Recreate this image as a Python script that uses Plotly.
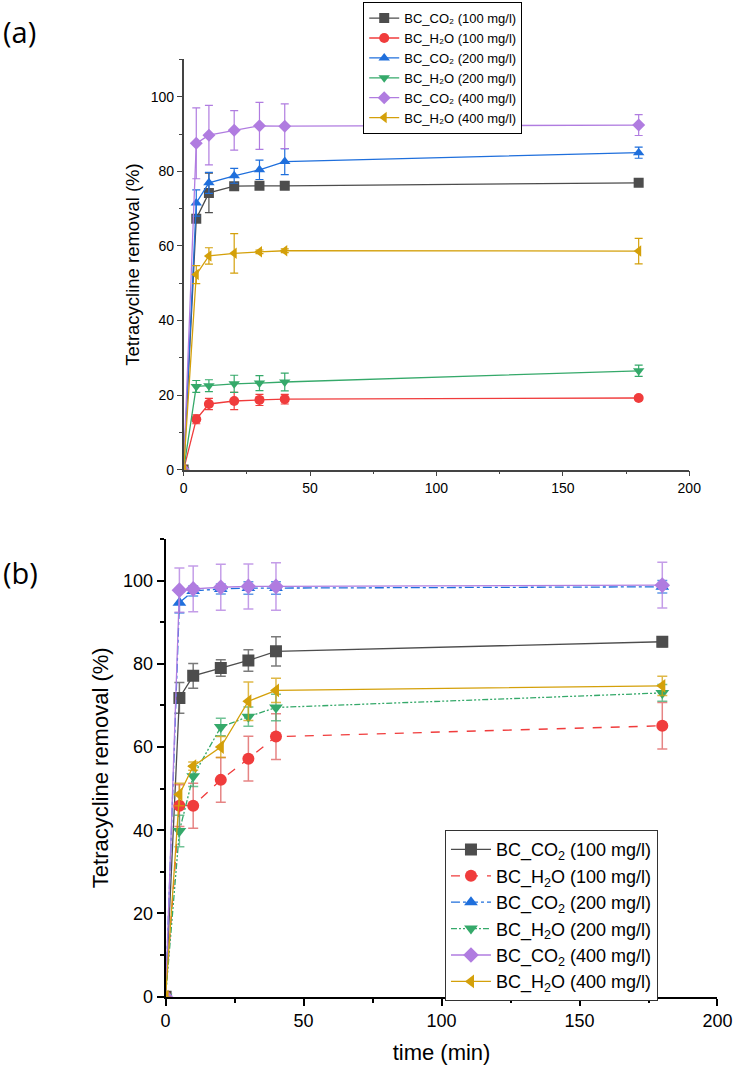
import plotly.graph_objects as go

time = [0, 5, 10, 20, 30, 40, 180]

names_a = ["BC_CO₂ (100 mg/l)", "BC_H₂O (100 mg/l)",
           "BC_CO₂ (200 mg/l)", "BC_H₂O (200 mg/l)",
           "BC_CO₂ (400 mg/l)", "BC_H₂O (400 mg/l)"]
names_b = ["BC_CO<sub>2</sub> (100 mg/l)", "BC_H<sub>2</sub>O (100 mg/l)",
           "BC_CO<sub>2</sub> (200 mg/l)", "BC_H<sub>2</sub>O (200 mg/l)",
           "BC_CO<sub>2</sub> (400 mg/l)", "BC_H<sub>2</sub>O (400 mg/l)"]

# Panel (a)
a_co2_100 = [0, 67.3, 74.2, 76.0, 76.1, 76.1, 76.9]
a_co2_100_err = [0, 1.0, 5.3, 0.8, 0.6, 0.6, 0.5]
a_h2o_100 = [0, 13.5, 17.6, 18.4, 18.7, 18.9, 19.2]
a_h2o_100_err = [0, 1.2, 1.5, 2.3, 1.5, 1.3, 0.5]
a_co2_200 = [0, 71.5, 76.9, 78.8, 80.4, 82.6, 85.0]
a_co2_200_err = [0, 3.5, 2.8, 2.0, 2.6, 3.5, 1.5]
a_h2o_200 = [0, 22.3, 22.5, 23.0, 23.2, 23.5, 26.5]
a_h2o_200_err = [0, 1.6, 1.6, 2.3, 2.0, 2.4, 1.5]
a_co2_400 = [0, 87.5, 89.7, 91.0, 92.2, 92.1, 92.4]
a_co2_400_err = [0, 9.5, 8.0, 5.3, 6.3, 6.0, 2.8]
a_h2o_400 = [0, 52.3, 57.3, 58.0, 58.4, 58.7, 58.6]
a_h2o_400_err = [0, 2.4, 2.2, 5.3, 0.5, 0.5, 3.4]

# Panel (b)
b_co2_100 = [0, 71.8, 77.1, 79.0, 80.8, 83.0, 85.3]
b_co2_100_err = [0, 3.7, 3.0, 2.0, 2.6, 3.5, 1.2]
b_h2o_100 = [0, 45.9, 45.9, 52.1, 57.2, 62.5, 65.1]
b_h2o_100_err = [0, 5.0, 5.4, 5.4, 5.4, 5.5, 5.6]
b_co2_200 = [0, 94.7, 97.5, 98.0, 98.2, 98.2, 98.5]
b_co2_200_err = [0, 2.5, 1.2, 1.2, 1.5, 1.5, 1.5]
b_h2o_200 = [0, 39.8, 53.0, 64.8, 67.3, 69.5, 73.0]
b_h2o_200_err = [0, 3.8, 2.5, 2.1, 2.3, 3.2, 2.0]
b_co2_400 = [0, 97.7, 98.0, 98.4, 98.6, 98.6, 98.9]
b_co2_400_err = [0, 5.3, 5.5, 5.5, 5.4, 5.7, 5.5]
b_h2o_400 = [0, 48.6, 55.4, 60.0, 71.0, 73.6, 74.7]
b_h2o_400_err = [0, 2.7, 1.0, 2.5, 4.6, 2.9, 2.3]

colors = ["#4d4d4d", "#f03c3c", "#1f6fdc", "#35a96a", "#b07ce0", "#d4a00a"]
err_colors_b = ["rgba(77,77,77,0.75)", "rgba(220,80,80,0.7)", "rgba(31,111,220,0.7)",
                "rgba(53,169,106,0.7)", "rgba(176,124,224,0.75)", "rgba(212,160,10,0.75)"]
symbols = ["square", "circle", "triangle-up", "triangle-down", "diamond", "triangle-left"]
dashes_b = ["solid", "dash", "dashdot", "6px,2px,2px,2px,2px,2px", "solid", "solid"]

a_vals = [a_co2_100, a_h2o_100, a_co2_200, a_h2o_200, a_co2_400, a_h2o_400]
a_errs = [a_co2_100_err, a_h2o_100_err, a_co2_200_err, a_h2o_200_err, a_co2_400_err, a_h2o_400_err]
b_vals = [b_co2_100, b_h2o_100, b_co2_200, b_h2o_200, b_co2_400, b_h2o_400]
b_errs = [b_co2_100_err, b_h2o_100_err, b_co2_200_err, b_h2o_200_err, b_co2_400_err, b_h2o_400_err]

fig = go.Figure()
for i in range(6):
    fig.add_trace(go.Scatter(
        x=time, y=a_vals[i], name=names_a[i], mode="lines+markers",
        line=dict(color=colors[i], width=1.3),
        marker=dict(symbol=symbols[i], size=10, color=colors[i]),
        error_y=dict(type="data", array=a_errs[i], color=colors[i], thickness=1.2, width=4),
        xaxis="x", yaxis="y", legend="legend"))
for i in range(6):
    fig.add_trace(go.Scatter(
        x=time, y=b_vals[i], name=names_b[i], mode="lines+markers",
        line=dict(color=colors[i], width=1.3, dash=dashes_b[i]),
        marker=dict(symbol=symbols[i], size=12, color=colors[i]),
        error_y=dict(type="data", array=b_errs[i], color=err_colors_b[i], thickness=1.5, width=5),
        xaxis="x2", yaxis="y2", legend="legend2"))

font_fam = "Arial"
axis_a = dict(showline=True, linecolor="#444", linewidth=1.5, ticks="outside", ticklen=5,
              tickcolor="#444", tickwidth=1.2, showgrid=False, zeroline=False,
              tickfont=dict(size=14, color="black", family=font_fam),
              minor=dict(ticks="outside", ticklen=3, tickcolor="#444", tickwidth=1))
axis_b = dict(showline=True, linecolor="black", linewidth=2, ticks="outside", ticklen=7,
              tickcolor="black", tickwidth=2, showgrid=False, zeroline=False,
              tickfont=dict(size=18, color="black", family=font_fam),
              minor=dict(ticks="outside", ticklen=4, tickcolor="black", tickwidth=2))

fig.update_layout(
    width=750, height=1079, margin=dict(l=0, r=0, t=0, b=0),
    paper_bgcolor="white", plot_bgcolor="white", showlegend=True,
    font=dict(family=font_fam, color="black"),
    xaxis=dict(axis_a, domain=[0.2447, 0.9373], range=[0, 200], dtick=50,
               minor=dict(axis_a["minor"], dtick=25), anchor="y"),
    yaxis=dict(axis_a, domain=[0.5607, 0.9444], range=[0, 110], tick0=0, dtick=20,
               minor=dict(axis_a["minor"], dtick=10), anchor="x",
               title=dict(text="Tetracycline removal (%)", font=dict(size=18.5, family=font_fam), standoff=6)),
    xaxis2=dict(axis_b, domain=[0.22, 0.976], range=[0, 200], dtick=50,
                minor=dict(axis_b["minor"], dtick=25), anchor="y2",
                title=dict(text="time (min)", font=dict(size=22, family=font_fam), standoff=14)),
    yaxis2=dict(axis_b, domain=[0.0677, 0.4958], range=[0, 110], tick0=0, dtick=20,
                minor=dict(axis_b["minor"], dtick=10), anchor="x2",
                title=dict(text="Tetracycline removal (%)", font=dict(size=22, family=font_fam), standoff=8)),
    legend=dict(x=0.4907, y=0.998, xanchor="left", yanchor="top", bgcolor="white",
                bordercolor="black", borderwidth=1, font=dict(size=13, family=font_fam),
                tracegroupgap=0, itemwidth=30),
    legend2=dict(x=0.6027, y=0.2234, xanchor="left", yanchor="top", bgcolor="white",
                 bordercolor="#333", borderwidth=1, font=dict(size=18, family=font_fam),
                 tracegroupgap=0, itemwidth=40),
    annotations=[
        dict(text="(a)", x=-0.006, y=1 - 32 / 1079, xref="paper", yref="paper", xanchor="left",
             yanchor="middle", showarrow=False, font=dict(size=29, family="Open Sans, sans-serif")),
        dict(text="(b)", x=-0.006, y=1 - 578 / 1079, xref="paper", yref="paper", xanchor="left",
             yanchor="middle", showarrow=False, font=dict(size=29, family="Open Sans, sans-serif")),
    ],
)

fig.write_html("out.html")
